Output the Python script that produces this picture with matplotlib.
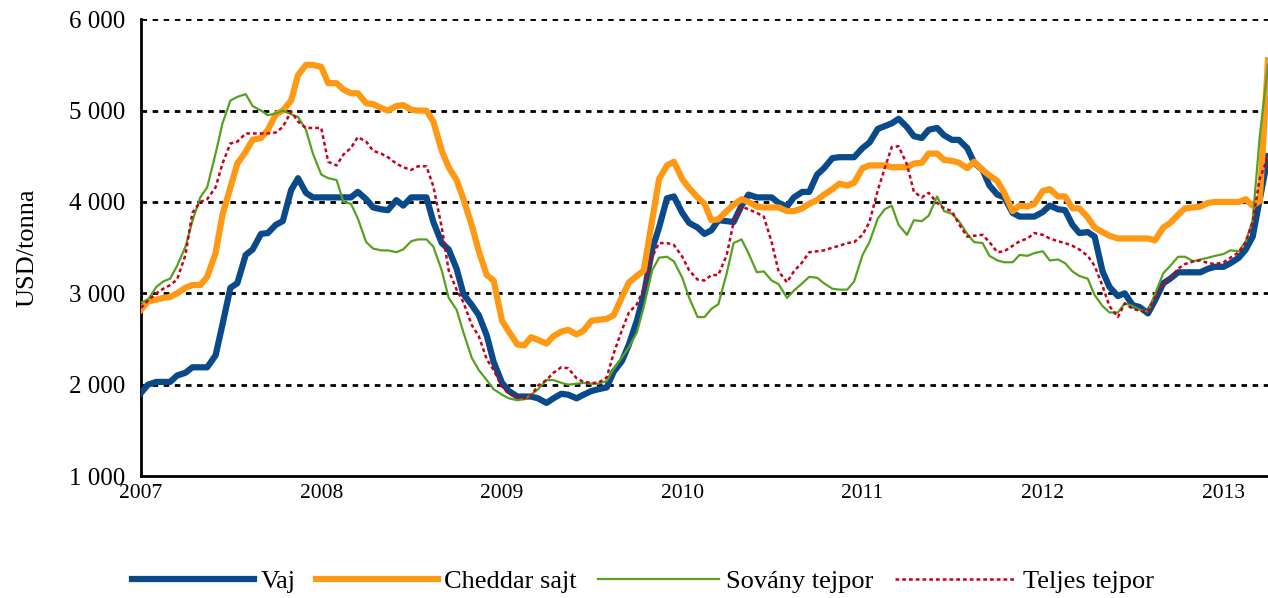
import numpy as np
import pandas as pd
import matplotlib
matplotlib.use('Agg')
import matplotlib.pyplot as plt
import matplotlib.dates as mdates
from matplotlib.ticker import FuncFormatter

# semi-monthly quotes, 2007-01 .. 2013-04
dates = pd.date_range('2007-01-01', periods=151, freq='SMS')

vaj = [1910, 2000, 2030, 2030, 2030, 2100, 2130, 2190, 2190, 2190,
       2320, 2660, 3060, 3110, 3420, 3480, 3650, 3660, 3750, 3790,
       4130, 4260, 4100, 4050, 4050, 4050, 4050, 4050, 4050, 4110,
       4030, 3940, 3920, 3910, 4020, 3960, 4050, 4050, 4050, 3780,
       3550, 3480, 3270, 2990, 2870, 2760, 2540, 2250, 2020, 1930,
       1870, 1870, 1870, 1850, 1800, 1850, 1900, 1890, 1850, 1890,
       1930, 1950, 1970, 2140, 2260, 2440, 2700, 2980, 3480, 3720,
       4040, 4060, 3880, 3770, 3720, 3650, 3690, 3800, 3790, 3780,
       3960, 4080, 4050, 4050, 4050, 3990, 3950, 4050, 4110, 4110,
       4300, 4370, 4480, 4490, 4490, 4490, 4590, 4650, 4800, 4830,
       4860, 4910, 4820, 4720, 4700, 4790, 4810, 4730, 4680, 4680,
       4590, 4430, 4350, 4180, 4080, 4050, 3880, 3840, 3840, 3840,
       3890, 3960, 3920, 3910, 3750, 3660, 3670, 3620, 3240, 3070,
       2970, 3000, 2870, 2850, 2780, 2920, 3110, 3160, 3230, 3230,
       3230, 3230, 3270, 3290, 3290, 3330, 3390, 3480, 3620, 4020,
       4500]

cheddar = [2820, 2910, 2930, 2950, 2960, 3000, 3060, 3090, 3090, 3180,
           3440, 3860, 4160, 4420, 4550, 4680, 4700, 4790, 4960, 5000,
           5110, 5390, 5500, 5500, 5480, 5300, 5300, 5230, 5190, 5190,
           5080, 5070, 5030, 5000, 5050, 5060, 5010, 5000, 5000, 4880,
           4560, 4380, 4240, 4030, 3740, 3460, 3200, 3140, 2700, 2580,
           2440, 2430, 2520, 2490, 2450, 2530, 2580, 2600, 2550, 2590,
           2700, 2710, 2720, 2760, 2960, 3120, 3190, 3250, 3800, 4250,
           4400, 4440, 4250, 4150, 4050, 3980, 3800, 3810, 3900, 3970,
           4030, 4000, 3950, 3940, 3940, 3940, 3900, 3900, 3930, 3980,
           4020, 4080, 4140, 4200, 4180, 4210, 4370, 4400, 4400, 4400,
           4380, 4380, 4380, 4420, 4430, 4530, 4530, 4460, 4450, 4430,
           4370, 4440, 4350, 4290, 4230, 4100, 3900, 3960, 3950, 3980,
           4120, 4140, 4060, 4060, 3930, 3930, 3830, 3720, 3670, 3630,
           3600, 3600, 3600, 3600, 3600, 3580, 3720, 3770, 3860, 3930,
           3940, 3950, 3990, 4000, 4000, 4000, 4000, 4030, 3960, 4010,
           5550]

sovany = [2900, 2930, 3070, 3130, 3160, 3300, 3510, 3790, 4050, 4160,
          4530, 4860, 5110, 5150, 5180, 5050, 5000, 4950, 4970, 5000,
          4960, 4930, 4790, 4530, 4300, 4260, 4240, 4000, 3980, 3820,
          3560, 3490, 3470, 3470, 3450, 3480, 3570, 3590, 3590, 3510,
          3250, 2950, 2820, 2570, 2290, 2160, 2050, 1950, 1890, 1850,
          1830, 1840, 1890, 1950, 2050, 2050, 2020, 2000, 2010, 2020,
          2010, 2010, 2040, 2170, 2300, 2410, 2570, 2850, 3250, 3390,
          3400, 3350, 3170, 2950, 2740, 2740, 2830, 2880, 3220, 3550,
          3590, 3440, 3230, 3240, 3140, 3100, 2950, 3030, 3110, 3180,
          3170, 3110, 3050, 3040, 3040, 3130, 3420, 3560, 3820, 3920,
          3960, 3750, 3640, 3800, 3790, 3850, 4060, 3900, 3870, 3790,
          3650, 3560, 3550, 3410, 3360, 3340, 3340, 3420, 3410, 3440,
          3460, 3360, 3370, 3330, 3240, 3190, 3160, 2980, 2860, 2790,
          2790, 2890, 2860, 2820, 2800, 2990, 3220, 3300, 3400, 3400,
          3350, 3370, 3390, 3410, 3430, 3470, 3460, 3570, 3800, 4700,
          5500]

teljes = [2840, 2920, 3000, 3050, 3090, 3150, 3420, 3880, 4000, 4030,
          4160, 4420, 4640, 4660, 4750, 4750, 4750, 4750, 4760, 4820,
          4990, 4880, 4810, 4810, 4810, 4440, 4400, 4520, 4590, 4710,
          4660, 4560, 4530, 4490, 4420, 4380, 4350, 4390, 4390, 4170,
          3720, 3250, 3040, 2900, 2650, 2530, 2280, 2160, 1980, 1900,
          1860, 1850, 1880, 1990, 2050, 2130, 2190, 2180, 2070, 2030,
          2020, 2020, 2080, 2340, 2600, 2790, 2880, 3050, 3400, 3550,
          3550, 3530, 3400, 3250, 3150, 3140, 3200, 3200, 3420, 3780,
          3950, 3920, 3880, 3840, 3560, 3240, 3120, 3240, 3340, 3450,
          3460, 3470, 3500, 3520, 3550, 3560, 3640, 3780, 4130, 4370,
          4600, 4610, 4410, 4110, 4050, 4100, 3990, 3930, 3900, 3760,
          3620, 3630, 3640, 3560, 3450, 3460, 3520, 3570, 3600, 3660,
          3640, 3600, 3570, 3550, 3520, 3480, 3410, 3300, 3080, 2860,
          2740, 2890, 2830, 2810, 2800, 2950, 3110, 3160, 3270, 3320,
          3350, 3360, 3330, 3320, 3340, 3390, 3450, 3560, 3780, 4250,
          4490]

labels = ['Vaj', 'Cheddar sajt', 'Sovány tejpor', 'Teljes tejpor']
yticks = [1000, 2000, 3000, 4000, 5000, 6000]

plt.rcParams['font.family'] = ['Liberation Serif', 'DejaVu Serif']

fig = plt.figure(figsize=(12.68, 5.98), dpi=100)
ax = fig.add_axes([0.1112, 0.204, 0.8888, 0.7638])

for y in yticks[1:]:
    ax.axhline(y, color='black', lw=2.0, ls=(0, (2, 2)), zorder=1)

ax.plot(dates, vaj, color='#0a4a8a', lw=4.5, label=labels[0], zorder=3)
ax.plot(dates, cheddar, color='#ff9914', lw=4.5, label=labels[1], zorder=3)
ax.plot(dates, sovany, color='#57a11f', lw=1.6, label=labels[2], zorder=4)
ax.plot(dates, teljes, color='#c8001e', lw=1.8, ls=(0, (1.5, 1.2)),
        label=labels[3], zorder=5)

ax.set_ylim(1000, 6000)
ax.set_xlim(dates[0], dates[-1])
ax.set_yticks(yticks)
ax.yaxis.set_major_formatter(FuncFormatter(lambda v, p: f'{v:,.0f}'.replace(',', ' ')))
ax.xaxis.set_major_locator(mdates.YearLocator())
ax.xaxis.set_major_formatter(mdates.DateFormatter('%Y'))

for s in ['top', 'right']:
    ax.spines[s].set_visible(False)
for s in ['left', 'bottom']:
    ax.spines[s].set_linewidth(2)
ax.tick_params(axis='both', length=0)
ax.tick_params(axis='y', pad=11, labelsize=18)
ax.tick_params(axis='x', pad=6, labelsize=15.5)
ax.set_ylabel('USD/tonna', fontsize=19, labelpad=22)

fig.legend(loc='lower center', bbox_to_anchor=(0.507, -0.032), ncol=4, frameon=False,
           fontsize=19, handlelength=4.6, handletextpad=0.25, columnspacing=0.8)

fig.savefig('out.png', dpi=100)
